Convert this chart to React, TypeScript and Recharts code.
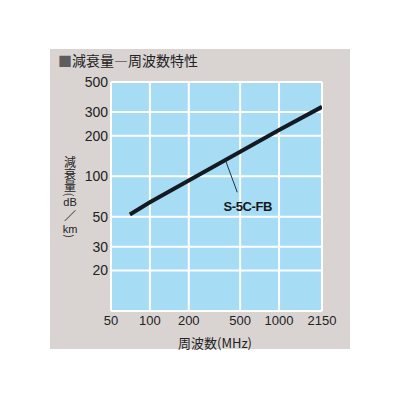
import React from "react"
import {
  LineChart,
  Line,
  XAxis,
  YAxis,
  CartesianGrid,
  ReferenceLine,
  ReferenceDot
} from "recharts"

// attenuation vs frequency
const freqs = [70, 100, 200, 500, 1000, 2150]
const loss = [52, 64, 93, 152, 220, 327]
const xTicks = [50, 100, 200, 500, 1000, 2150]
const yTicks = [20, 30, 50, 100, 200, 300, 500]
const seriesName = "S-5C-FB"
const leader = [{ x: 384, y: 132 }, { x: 475, y: 76 }]
const nameAt = { x: 572, y: 59.5 }

const data = freqs.map((f, i) => ({ f, v: loss[i] }))

const numFont = "'Liberation Sans', Arial, sans-serif"
const jpFont = "'Noto Sans CJK JP', sans-serif"

// rest of the vertical y title, under 減衰量
const yUnit = [
  { t: "(", y: 145.5, size: 11, rot: true },
  { t: "dB", y: 152.5, size: 11 },
  { t: "／", y: 166, size: 12 },
  { t: "km", y: 179.5, size: 11 },
  { t: ")", y: 187, size: 11, rot: true }
]

function YTitle() {
  return (
    <g fill="#222">
      <text x={20} y={107} fontSize={12} fontFamily={jpFont} writingMode="vertical-rl">
        減衰量
      </text>
      {yUnit.map((c, i) => (
        <text
          key={i}
          x={20}
          y={c.y}
          fontSize={c.size}
          fontFamily={c.t === "dB" || c.t === "km" ? numFont : jpFont}
          textAnchor="middle"
          dominantBaseline="central"
          transform={c.rot ? `rotate(90 20 ${c.y})` : undefined}
        >
          {c.t}
        </text>
      ))}
    </g>
  )
}

function XTitle() {
  return (
    <text x={165} y={293} fontSize={13} fontFamily={jpFont} fill="#222"
      textAnchor="middle" dominantBaseline="central">
      周波数(MHz)
    </text>
  )
}

export default function App() {
  return (
    <div style={{ position: "absolute", left: 50, top: 49, width: 300, height: 300, background: "#d9d4d2" }}>
      <div style={{
        position: "absolute", left: 8, top: 2, fontSize: 14, lineHeight: "18px",
        fontFamily: jpFont, color: "#222", whiteSpace: "nowrap"
      }}>
        <span style={{ color: "#5d5d5f" }}>■</span>減衰量―周波数特性
      </div>
      <LineChart width={300} height={310} data={data}
        margin={{ top: 33, right: 28, left: 0, bottom: 10 }}>
        <CartesianGrid stroke="#ffffff" strokeWidth={2} fill="#a7dcf5" fillOpacity={1} />
        <XAxis
          dataKey="f"
          type="number"
          scale="log"
          domain={[50, 2150]}
          ticks={xTicks}
          allowDataOverflow
          height={38}
          axisLine={false}
          tickLine={false}
          tickSize={0}
          tickMargin={5}
          tick={{ fontSize: 13, fontFamily: numFont, fill: "#222" }}
          label={<XTitle />}
        />
        <YAxis
          type="number"
          scale="log"
          domain={[10, 500]}
          ticks={yTicks}
          allowDataOverflow
          width={61}
          axisLine={false}
          tickLine={false}
          tickSize={0}
          tickMargin={3}
          tick={{ fontSize: 14, fontFamily: numFont, fill: "#222" }}
          label={<YTitle />}
        />
        <ReferenceLine y={10} stroke="#ffffff" strokeWidth={2} />
        <ReferenceLine segment={leader} stroke="#1d3340" strokeWidth={1} />
        <Line
          dataKey="v"
          name={seriesName}
          stroke="#131a22"
          strokeWidth={4}
          dot={false}
          activeDot={false}
          isAnimationActive={false}
        />
        <ReferenceDot x={nameAt.x} y={nameAt.y} r={0} fill="none" stroke="none"
          label={{
            value: seriesName, position: "center", fontSize: 13, fontWeight: "bold",
            fontFamily: numFont, fill: "#131a22", letterSpacing: -0.4
          }} />
      </LineChart>
    </div>
  )
}
